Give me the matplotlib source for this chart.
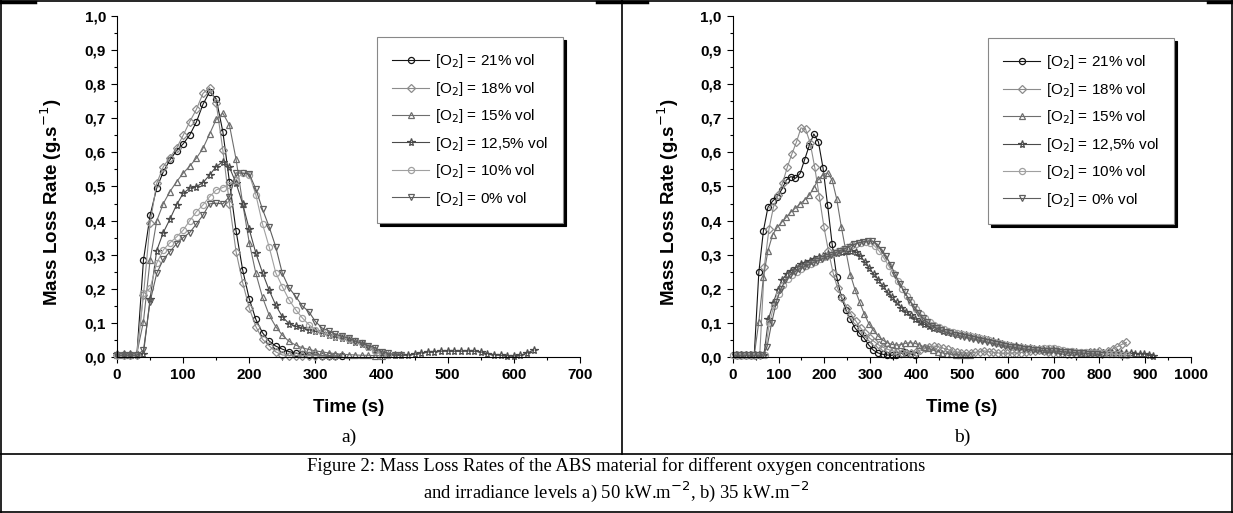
import numpy as np
import matplotlib.pyplot as plt
from matplotlib.lines import Line2D
from matplotlib.ticker import FuncFormatter, MultipleLocator

labels = ['[O$_2$] = 21% vol', '[O$_2$] = 18% vol', '[O$_2$] = 15% vol',
          '[O$_2$] = 12,5% vol', '[O$_2$] = 10% vol', '[O$_2$] = 0% vol']
markers = ['o', 'D', '^', '*', 'o', 'v']
colors = ['#151515', '#8c8c8c', '#6e6e6e', '#4a4a4a', '#a0a0a0', '#5e5e5e']

# a) 50 kW/m2 : sampled every 10 s, first sample time in start_a
start_a = [0, 0, 0, 0, 0, 0]
mlr_a = [
    [.005, .005, .005, .005, .284, .415, .495, .543, .578, .605, .625, .651, .689, .741, .778, .757,
     .661, .514, .370, .255, .170, .110, .071, .047, .032, .023, .016, .011, .008, .006, .005, .004,
     .004, .003, .003],
    [.005, .005, .005, .005, .182, .392, .509, .558, .585, .612, .650, .690, .726, .773, .790, .744,
     .607, .450, .309, .218, .143, .089, .052, .033, .015, .006, .004, .004, .004, .004, .004, .003,
     .003, .003],
    [.005, .005, .005, .010, .104, .284, .399, .450, .485, .514, .539, .560, .583, .612, .654, .697,
     .715, .680, .580, .450, .335, .245, .175, .123, .089, .064, .046, .035, .027, .022, .018, .015,
     .012, .010, .008, .007, .006, .005, .005, .004, .004],
    [.008, .008, .008, .008, .010, .170, .312, .365, .404, .446, .480, .495, .500, .511, .534, .558,
     .573, .556, .510, .449, .374, .304, .247, .196, .152, .118, .098, .090, .085, .080, .075, .070,
     .065, .060, .055, .050, .045, .038, .030, .020, .012, .007, .005, .005, .006, .008, .012, .015,
     .016, .017, .018, .017, .017, .018, .017, .015, .010, .007, .005, .004, .003, .005, .012, .020],
    [.005, .005, .005, .005, .187, .201, .275, .314, .335, .352, .372, .400, .426, .446, .470, .490,
     .497, .505, .520, .540, .535, .475, .390, .323, .247, .206, .168, .139, .115, .095, .080, .072,
     .066, .062, .058, .054, .048, .040, .030, .018, .008, .005],
    [.005, .005, .005, .005, .020, .162, .245, .286, .309, .332, .350, .365, .390, .416, .449, .451,
     .449, .470, .540, .539, .537, .492, .433, .382, .323, .245, .203, .178, .150, .133, .104, .085,
     .077, .067, .061, .055, .047, .040, .033, .027, .016, .011, .007, .005],
]

# b) 35 kW/m2
start_b = [7, 9, 7, 8, 0, 5]
mlr_b = [
    [.005, .005, .005, .005, .005, .248, .370, .440, .457, .470, .491, .519, .529, .524, .538, .579,
     .620, .654, .631, .555, .446, .331, .235, .176, .139, .110, .085, .069, .055, .035, .020, .012,
     .008, .006, .005, .005, .010, .015, .010, .005],
    [.005, .005, .005, .005, .005, .005, .265, .374, .440, .475, .511, .556, .595, .630, .672, .668,
     .628, .556, .470, .382, .310, .247, .201, .172, .145, .124, .105, .085, .070, .055, .045, .035,
     .028, .022, .018, .015, .013, .012, .013, .015, .020, .025, .030, .032, .030, .026, .022, .018,
     .015, .013, .012, .012, .014, .016, .018, .016, .014, .012, .011, .011, .012, .012, .013, .015,
     .017, .019, .020, .018, .015, .013, .012, .011, .010, .010, .010, .011, .012, .014, .016, .018,
     .013, .018, .024, .030, .037, .043],
    [.005, .005, .005, .005, .005, .103, .235, .312, .358, .380, .395, .410, .425, .437, .449, .461,
     .474, .497, .521, .534, .540, .519, .463, .382, .310, .241, .197, .161, .127, .098, .078, .062,
     .050, .042, .037, .035, .036, .040, .042, .040, .036, .030, .025, .020, .016, .012, .010, .008,
     .007, .006, .005, .005],
    [.005, .005, .005, .005, .005, .005, .005, .110, .157, .196, .227, .244, .253, .262, .272, .277,
     .282, .287, .292, .297, .302, .304, .306, .309, .311, .311, .309, .297, .280, .260, .243, .226,
     .208, .190, .175, .160, .145, .133, .122, .112, .104, .096, .090, .085, .081, .077, .074, .071,
     .068, .066, .064, .062, .059, .056, .053, .050, .046, .043, .039, .036, .033, .031, .029, .027,
     .025, .023, .022, .022, .023, .022, .020, .018, .016, .015, .014, .013, .013, .012, .012, .012,
     .012, .013, .013, .012, .012, .012, .011, .010, .010, .009, .007, .004],
    [.005, .005, .005, .005, .005, .005, .005, .005, .100, .150, .185, .210, .228, .240, .250, .258,
     .266, .273, .280, .287, .294, .300, .306, .312, .318, .323, .328, .332, .335, .336, .334, .325,
     .310, .290, .268, .245, .222, .200, .180, .160, .142, .127, .114, .104, .095, .088, .082, .077,
     .073, .070, .067, .065, .063, .060, .057, .053, .049, .045, .042, .038, .035, .032, .030, .028,
     .026, .025, .024, .024, .025, .026, .025, .022, .020, .018, .017, .016, .015, .014, .013, .012,
     .012, .011, .010, .009, .008, .007, .006],
    [.005, .005, .005, .005, .005, .005, .005, .030, .100, .160, .200, .225, .240, .250, .258, .264,
     .270, .276, .282, .288, .294, .300, .306, .312, .318, .324, .330, .335, .338, .340, .340, .330,
     .315, .295, .270, .240, .215, .190, .168, .148, .130, .115, .102, .092, .084, .078, .073, .069,
     .065, .062, .059, .056, .053, .050, .047, .044, .041, .038, .035, .032, .030, .028, .026, .024,
     .022, .021, .020, .019, .018, .018, .017, .016, .015, .014, .013, .012, .011, .010, .009, .008,
     .007],
]

W, H = 1233, 513
fig = plt.figure(figsize=(W / 100, H / 100), dpi=100)

bold = dict(family='Liberation Sans', weight='bold')
comma = FuncFormatter(lambda v, p: f'{v:.1f}'.replace('.', ','))


def panel(rect, starts, data, xmax, letter, lx, ly):
    ax = fig.add_axes(rect)
    for i in range(6):
        t = starts[i] + 10 * np.arange(len(data[i]))
        ax.plot(t, data[i], color=colors[i], lw=0.8, marker=markers[i],
                ms=5.8 if markers[i] == '*' else 4.4, mfc='none', mec=colors[i], mew=0.9,
                label=labels[i], clip_on=False)
    ax.set_xlim(0, xmax)
    ax.set_ylim(0, 1.0)
    for s in ['top', 'right']:
        ax.spines[s].set_visible(False)
    ax.spines['left'].set_linewidth(0.8)
    ax.spines['bottom'].set_linewidth(0.8)
    ax.xaxis.set_major_locator(MultipleLocator(100))
    ax.xaxis.set_minor_locator(MultipleLocator(50))
    ax.yaxis.set_major_locator(MultipleLocator(0.1))
    ax.yaxis.set_minor_locator(MultipleLocator(0.05))
    ax.yaxis.set_major_formatter(comma)
    ax.tick_params(which='major', direction='out', length=4, width=0.8, pad=4)
    ax.tick_params(which='minor', direction='out', length=2.5, width=0.8)
    for lab in ax.get_xticklabels() + ax.get_yticklabels():
        lab.set_fontproperties(bold)
        lab.set_fontsize(11)
    ax.set_xlabel('Time (s)', fontsize=13.5, va='center', **bold)
    ax.xaxis.set_label_coords(0.5, -0.147)
    ax.set_ylabel('Mass Loss Rate (g.s$^{-1}$)', fontsize=13.5, va='center', **bold)
    ax.yaxis.set_label_coords(-0.141, 0.455)
    leg = ax.legend(loc='upper left', bbox_to_anchor=(lx, ly), borderaxespad=0, frameon=True,
                    fancybox=False, shadow={'color': 'black', 'alpha': 1}, edgecolor='#888888',
                    prop={'family': 'Liberation Sans', 'size': 11}, handlelength=2.4,
                    handletextpad=0.4, labelspacing=0.62, borderpad=1.0)
    leg.get_frame().set_linewidth(0.8)
    fig.text((rect[0] + rect[2] / 2), 1 - 437 / H, letter, ha='center', va='center',
             family='Liberation Serif', fontsize=14)
    return ax


panel([117 / W, 1 - 357 / H, 463 / W, 341 / H], start_a, mlr_a, 700, 'a)', 0.5616, 0.938)
panel([732.7 / W, 1 - 357 / H, 458.3 / W, 341 / H], start_b, mlr_b, 1000, 'b)', 0.557, 0.935)

# table borders around the figure
def hline(x0, x1, y, lw=1.2):
    fig.add_artist(Line2D([x0 / W, x1 / W], [1 - y / H, 1 - y / H], color='black', lw=lw))


def vline(x, y0, y1, lw=1.2):
    fig.add_artist(Line2D([x / W, x / W], [1 - y0 / H, 1 - y1 / H], color='black', lw=lw))


hline(0, W, 1)
hline(0, W, 454)
hline(0, W, 511.5)
vline(1, 0, H)
vline(W - 1, 0, H)
vline(622, 0, 454)
hline(0, 35, 1.5, lw=2.5)
hline(597, 647, 1.5, lw=2.5)
hline(1208, W, 1.5, lw=2.5)

fig.text(0.5, 1 - 466 / H, 'Figure 2: Mass Loss Rates of the ABS material for different oxygen concentrations',
         ha='center', va='center', family='Liberation Serif', fontsize=13.4)
fig.text(0.5, 1 - 492 / H, 'and irradiance levels a) 50 kW.m$^{-2}$, b) 35 kW.m$^{-2}$',
         ha='center', va='center', family='Liberation Serif', fontsize=13.4)

fig.savefig('out.png', dpi=100)
